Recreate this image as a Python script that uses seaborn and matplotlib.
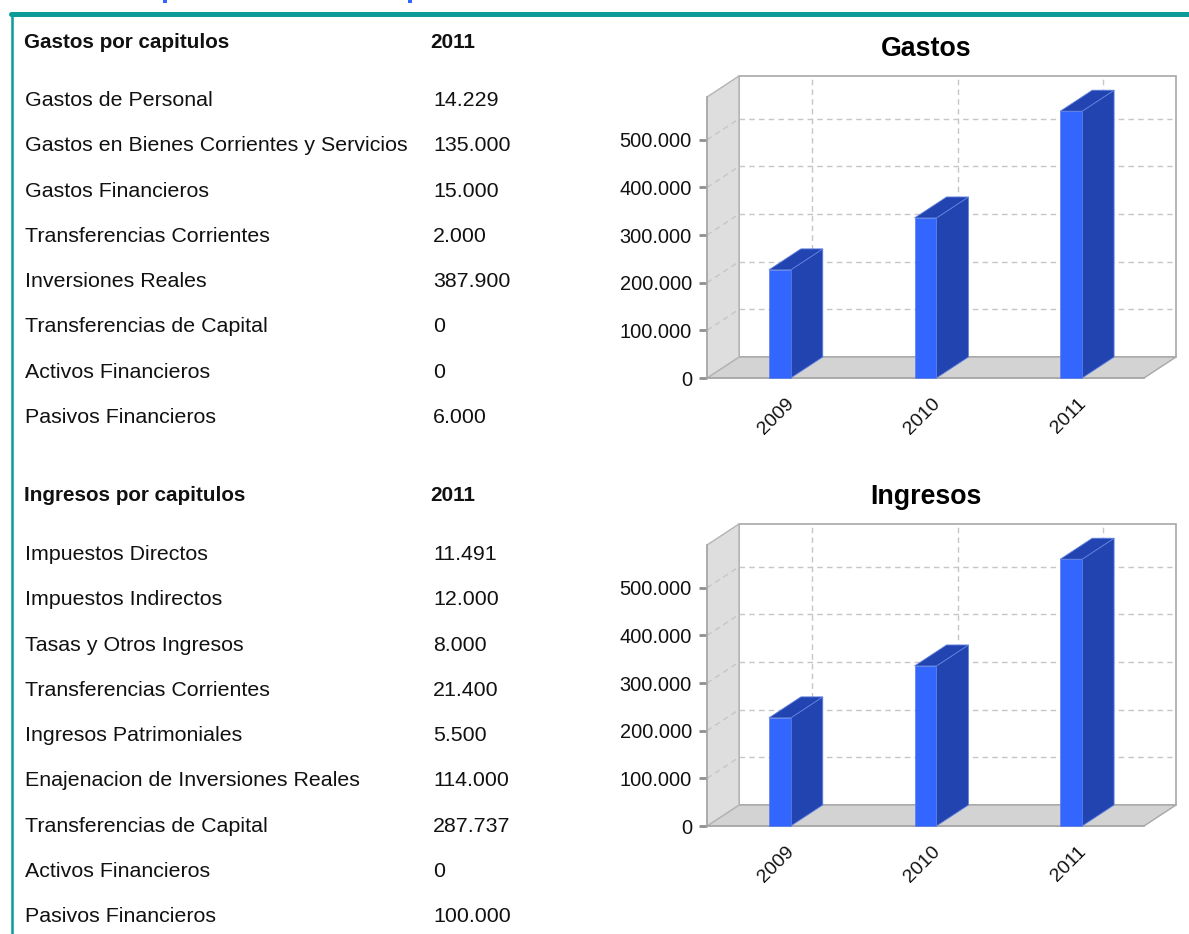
import matplotlib
matplotlib.use('Agg')
import matplotlib.pyplot as plt
import pandas as pd
import seaborn as sns
from matplotlib.patches import Polygon, Rectangle
from matplotlib.transforms import Affine2D, IdentityTransform

# table data
gastos_names = ['Gastos de Personal', 'Gastos en Bienes Corrientes y Servicios', 'Gastos Financieros',
                'Transferencias Corrientes', 'Inversiones Reales', 'Transferencias de Capital',
                'Activos Financieros', 'Pasivos Financieros']
gastos_2011 = [14229, 135000, 15000, 2000, 387900, 0, 0, 6000]
ingresos_names = ['Impuestos Directos', 'Impuestos Indirectos', 'Tasas y Otros Ingresos',
                  'Transferencias Corrientes', 'Ingresos Patrimoniales', 'Enajenacion de Inversiones Reales',
                  'Transferencias de Capital', 'Activos Financieros', 'Pasivos Financieros']
ingresos_2011 = [11491, 12000, 8000, 21400, 5500, 114000, 287737, 0, 100000]

# chart data
years = ['2009', '2010', '2011']
gastos_totals = [227000, 336000, 560129]
ingresos_totals = [227000, 336000, 560128]
y_ticks = [0, 100000, 200000, 300000, 400000, 500000]

W, H = 1189, 934
FRONT = '#3366ff'
SIDE = '#2244b0'
DX, DY = 32, 21
PIX = IdentityTransform()

sns.set_style('white')
plt.rcParams['font.family'] = ['Liberation Sans', 'DejaVu Sans']

fig = plt.figure(figsize=(W / 100, H / 100), dpi=100)


def px_text(x, y, s, size=21.4, **kw):
    '''text placed in reference pixels, size in pixels'''
    fig.text(x / W, 1 - y / H, s, fontsize=size * 0.72, va='center', **kw)


def fmt(v):
    return f'{v:,}'.replace(',', '.')


def table(title, names, vals, y_head, y_first, step):
    px_text(24, y_head + 1.5, title, size=20.6, fontweight='bold', color='#111111')
    px_text(430, y_head + 1.5, '2011', size=20.6, fontweight='bold', color='#111111')
    for i, (n, v) in enumerate(zip(names, vals)):
        y = y_first + i * step + 1.5
        px_text(25, y, n, color='#111111')
        px_text(433, y, fmt(v), color='#111111')


def chart(title, totals, y_base):
    # front plane of the box, in reference pixels
    x0, x1, y_top = 707, 1144, y_base - 281
    ax = fig.add_axes([x0 / W, 1 - y_base / H, (x1 - x0) / W, (y_base - y_top) / H])
    df = pd.DataFrame({'year': years, 'total': totals})
    sns.barplot(data=df, x='year', y='total', color=FRONT, saturation=1, width=0.15, ax=ax, zorder=5)
    ax.set_xlim(-0.5, 2.5)
    ax.set_ylim(0, 590000)
    ax.patch.set_alpha(0)
    ax.set_xlabel('')
    ax.set_ylabel('')
    sns.despine(ax=ax, top=True, right=True)
    for s in ['left', 'bottom']:
        ax.spines[s].set_color('#a8a8a8')
        ax.spines[s].set_linewidth(1.2)

    ax.set_yticks(y_ticks)
    ax.set_yticklabels([fmt(v) for v in y_ticks], fontsize=20 * 0.72, color='#111111')
    ax.tick_params(axis='y', length=5.8, width=2, color='#909090', pad=5, left=True)
    ax.set_xticks(range(len(years)))
    ax.set_xticklabels(years, rotation=45, ha='right', rotation_mode='anchor', fontsize=19.5 * 0.72, color='#111111')
    ax.tick_params(axis='x', length=0, pad=12)
    for lab in ax.get_xticklabels():
        lab.set_transform(lab.get_transform() + Affine2D().translate(6, 0))

    fig.canvas.draw()
    td = ax.transData
    back = td + Affine2D().translate(DX, DY)
    ymax = ax.get_ylim()[1]
    bl, br = -0.5, 2.5

    # floor, left wall and back frame
    floor = [td.transform((bl, 0)), td.transform((br, 0)), back.transform((br, 0)), back.transform((bl, 0))]
    wall = [td.transform((bl, 0)), back.transform((bl, 0)), back.transform((bl, ymax)), td.transform((bl, ymax))]
    frame = [back.transform((bl, 0)), back.transform((br, 0)), back.transform((br, ymax)), back.transform((bl, ymax))]
    fig.add_artist(Polygon(frame, closed=True, fc='white', ec='#a8a8a8', lw=1.2, transform=PIX, zorder=-3))
    fig.add_artist(Polygon(floor, closed=True, fc='#d3d3d3', ec='#a8a8a8', lw=1, transform=PIX, zorder=-2))
    fig.add_artist(Polygon(wall, closed=True, fc='#dedede', ec='#b4b4b4', lw=1, transform=PIX, zorder=-2))

    # dashed grid on back plane and wall
    grid = dict(color='#c6c6c6', lw=1.0, dashes=(4, 3), clip_on=False, zorder=1)
    for v in y_ticks[1:]:
        ax.plot([bl, br - 0.03], [v, v], transform=back, **grid)
        a, b = td.transform((bl, v)), back.transform((bl, v))
        ax.plot([a[0], b[0]], [a[1], b[1]], transform=PIX, **grid)
    for i in range(len(years)):
        ax.plot([i, i], [0, ymax], transform=back, **grid)

    # depth faces of each bar, from the bars seaborn drew
    for bar in list(ax.containers[0]):
        l, r = bar.get_x(), bar.get_x() + bar.get_width()
        h = bar.get_height()
        side = [td.transform((r, 0)), back.transform((r, 0)), back.transform((r, h)), td.transform((r, h))]
        top = [td.transform((l, h)), td.transform((r, h)), back.transform((r, h)), back.transform((l, h))]
        for pts in (side, top):
            ax.add_patch(Polygon(pts, closed=True, fc=SIDE, ec='#5f7fe0', lw=0.6, transform=PIX, clip_on=False, zorder=4))
        bar.set_edgecolor('#5f7fe0')
        bar.set_linewidth(0.5)
        bar.set_clip_on(False)

    px_text(926, y_base - 329.5, title, size=26.8, fontweight='bold', ha='center', color='black')


table('Gastos por capitulos', gastos_names, gastos_2011, 41, 99, 45.3)
table('Ingresos por capitulos', ingresos_names, ingresos_2011, 494, 553, 45.3)
chart('Gastos', gastos_totals, 378)
chart('Ingresos', ingresos_totals, 826)

# teal page border
fig.add_artist(plt.Line2D([11 / W, 1], [1 - 14 / H, 1 - 14 / H], color='#0b9b98', lw=3.6))
fig.add_artist(plt.Line2D([12.2 / W, 12.2 / W], [0, 1 - 14 / H], color='#0b9b98', lw=1.8))

# remains of the cropped page heading above the border
for hx in [163, 408]:
    fig.add_artist(Rectangle((hx / W, 1 - 2.5 / H), 4 / W, 2.5 / H, fc=FRONT, ec='none'))

fig.savefig('out.png', dpi=100)
